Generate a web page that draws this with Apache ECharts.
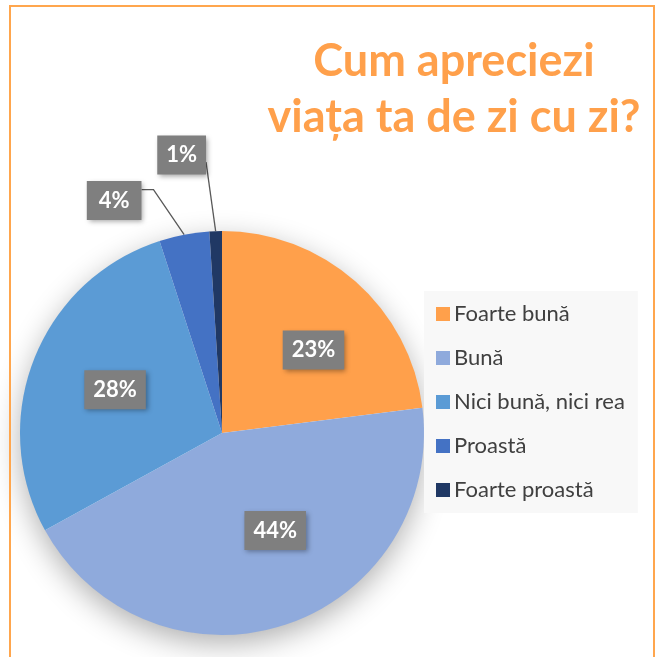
<!DOCTYPE html>
<html>
<head>
<meta charset="utf-8">
<script src="https://cdn.jsdelivr.net/npm/echarts@6/dist/echarts.min.js"></script>
<style>
  html, body { margin: 0; padding: 0; background: #ffffff; }
  #chart { width: 656px; height: 657px; }
</style>
</head>
<body>
<div id="chart"></div>
<script>
// Survey answers and their shares (%)
const categories = ['Foarte bună', 'Bună', 'Nici bună, nici rea', 'Proastă', 'Foarte proastă'];
const shares = [23, 44, 28, 4, 1];
const sliceColors = ['#FFA04B', '#8FAADC', '#5B9BD5', '#4472C4', '#203864'];

const titleLines = ['Cum apreciezi', 'viața ta de zi cu zi?'];

// Pie geometry (pixels)
const CX = 222, CY = 433, R = 202;
// Inside labels sit at this fraction of the radius, with small nudges
const insideFactor = 0.58;
const labelNudge = [[14, 5], [17, -14], [2, 0], [-70, -34], [-34, -76]];
const outsideSlices = [3, 4];

const total = shares.reduce((a, b) => a + b, 0);
// Mid angle of each slice, measured clockwise from 12 o'clock (radians)
const midAngles = [];
{
  let acc = 0;
  shares.forEach(v => {
    midAngles.push(((acc + v / 2) / total) * Math.PI * 2);
    acc += v;
  });
}
function polar(angle, r) {
  return [CX + r * Math.sin(angle), CY - r * Math.cos(angle)];
}

const chart = echarts.init(document.getElementById('chart'), null, { renderer: 'canvas' });

const labelFont = 'Lato, "Open Sans", sans-serif';

chart.setOption({
  animation: false,
  backgroundColor: '#ffffff',
  title: {
    text: titleLines.join('\n'),
    left: 449,
    top: 28,
    textAlign: 'center',
    textStyle: {
      color: '#FFA04B',
      fontFamily: labelFont,
      fontWeight: 'bold',
      fontSize: 45,
      lineHeight: 56
    }
  },
  legend: {
    orient: 'vertical',
    left: 424,
    top: 291,
    padding: [12, 13, 12, 12],
    backgroundColor: '#F8F8F8',
    itemWidth: 14,
    itemHeight: 14,
    itemGap: 22,
    icon: 'rect',
    data: categories,
    textStyle: {
      color: '#404040',
      fontFamily: labelFont,
      fontSize: 22,
      padding: [0, 0, 0, -1]
    }
  },
  graphic: [
    {
      type: 'rect',
      z: 100,
      silent: true,
      shape: { x: 10, y: 6, width: 644, height: 700 },
      style: { fill: 'none', stroke: '#FFA64D', lineWidth: 2 }
    }
  ],
  series: [
    {
      // soft drop shadow beneath the pie
      type: 'pie',
      silent: true,
      center: [CX, CY],
      radius: R - 1,
      z: 1,
      label: { show: false },
      labelLine: { show: false },
      legendHoverLink: false,
      data: [{ value: 1, name: '__shadow', itemStyle: { color: '#ffffff', shadowBlur: 30, shadowOffsetY: 9, shadowColor: 'rgba(0,0,0,0.32)' } }]
    },
    {
      type: 'pie',
      center: [CX, CY],
      radius: R,
      startAngle: 90,
      clockwise: true,
      z: 2,
      data: categories.map((name, i) => ({
        name,
        value: shares[i],
        itemStyle: { color: sliceColors[i] },
        label: { position: outsideSlices.includes(i) ? 'outside' : 'inside' },
        labelLine: { show: outsideSlices.includes(i) }
      })),
      label: {
        show: true,
        formatter: p => p.value + '%',
        color: '#ffffff',
        fontFamily: labelFont,
        fontWeight: 'bold',
        fontSize: 22,
        backgroundColor: '#7F7F7F',
        padding: [9, 9, 8, 9],
        shadowColor: 'rgba(0,0,0,0.35)',
        shadowBlur: 5,
        shadowOffsetX: 2,
        shadowOffsetY: 2
      },
      labelLine: {
        lineStyle: { color: '#595959', width: 1.3 }
      },
      labelLayout: function (params) {
        const i = params.dataIndex;
        const a = midAngles[i];
        const n = labelNudge[i];
        if (outsideSlices.includes(i)) {
          const edge = polar(a, R);
          const lx = edge[0] + n[0];
          const ly = edge[1] + n[1];
          const w = params.labelRect.width;
          const right = lx + w / 2;
          let pts;
          if (i === 3) {
            pts = [edge, [right + 12, ly - 11], [right, ly - 11]];
          } else {
            pts = [edge, [right, ly + 7]];
          }
          return { x: lx, y: ly, align: 'center', verticalAlign: 'middle', labelLinePoints: pts };
        }
        const p = polar(a, R * insideFactor);
        return { x: p[0] + n[0], y: p[1] + n[1], align: 'center', verticalAlign: 'middle' };
      }
    }
  ]
});
</script>
</body>
</html>
